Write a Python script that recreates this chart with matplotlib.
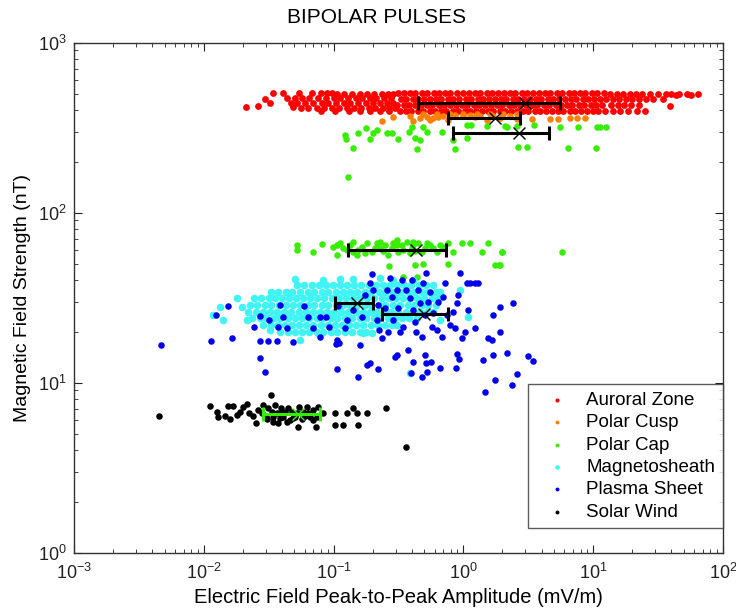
import numpy as np
import matplotlib
matplotlib.use("Agg")
import matplotlib.pyplot as plt
from matplotlib.ticker import LogLocator, LogFormatterSciNotation, NullFormatter

plt.rcParams["font.family"] = ["Liberation Sans", "DejaVu Sans"]
plt.rcParams["mathtext.default"] = "regular"

# all point positions are log10 values
# rows: (log10 B, [log10 E, ...])
auroral_rows = [
    (2.706, [-1.47, -1.387, -1.266, -1.169, -1.10, -1.053, -1.015]),
    (2.672, [-1.356]),
    (2.666, [-1.528]),
    (2.643, [-1.49, -1.33]),
    (2.627, [-1.58]),
    (2.619, [-1.675, -1.31]),
    (2.700, [-0.97, -0.92, -0.86, -0.80, -0.74, -0.69, -0.63, -0.58, -0.54]),
    (2.672, [-1.30, -1.24, -1.19, -1.12, -1.06, -1.00, -0.95, -0.89, -0.83, -0.78, -0.72, -0.67, -0.61, -0.56]),
    (2.645, [-1.28, -1.22, -1.16, -1.09, -1.04, -0.98, -0.92, -0.87, -0.81, -0.75, -0.70, -0.64, -0.59, -0.54]),
    (2.618, [-1.25, -1.20, -1.13, -1.07, -1.01, -0.96, -0.90, -0.84, -0.79, -0.73, -0.68, -0.62, -0.57, -0.53]),
    (2.598, [-1.10, -0.99, -0.88, -0.80, -0.72, -0.64, -0.57]),
    (2.702, [-0.50, -0.46, -0.41, -0.37, -0.32, -0.28, -0.23, -0.19, -0.14, -0.10, -0.05, 0.00, 0.04, 0.09,
             0.13, 0.18, 0.22, 0.27, 0.31, 0.36, 0.40, 0.45, 0.49, 0.54, 0.58, 0.63, 0.67, 0.72, 0.76, 0.81,
             0.85, 0.90, 0.94, 0.99, 1.03, 1.08]),
    (2.668, [-0.48, -0.44, -0.39, -0.35, -0.30, -0.26, -0.21, -0.17, -0.12, -0.08, -0.03, 0.02, 0.06, 0.11,
             0.15, 0.20, 0.24, 0.29, 0.33, 0.38, 0.42, 0.47, 0.51, 0.56, 0.60, 0.65, 0.69, 0.74, 0.78, 0.83,
             0.87, 0.92, 0.96, 1.01, 1.05, 1.10]),
    (2.634, [-0.51, -0.46, -0.42, -0.37, -0.33, -0.28, -0.24, -0.19, -0.15, -0.10, -0.06, -0.01, 0.03, 0.08,
             0.12, 0.17, 0.21, 0.26, 0.30, 0.35, 0.39, 0.44, 0.48, 0.53, 0.57, 0.62, 0.66, 0.71, 0.75, 0.80,
             0.84, 0.89, 0.93, 0.98, 1.02, 1.07]),
    (2.600, [-0.49, -0.44, -0.40, -0.35, -0.31, -0.26, -0.22, -0.17, -0.13, -0.08, -0.04, 0.01, 0.05, 0.10,
             0.14, 0.19, 0.23, 0.28, 0.32, 0.37, 0.41, 0.46, 0.50, 0.55, 0.59, 0.64, 0.68, 0.73, 0.77, 0.82,
             0.86, 0.91, 0.95, 1.00, 1.04, 1.09]),
    (2.700, [1.13, 1.18, 1.23, 1.28, 1.33, 1.38, 1.44, 1.50, 1.56, 1.60, 1.66, 1.72, 1.81]),
    (2.668, [1.15, 1.20, 1.25, 1.30, 1.35, 1.41, 1.46, 1.54]),
    (2.690, [1.64, 1.75]),
    (2.634, [1.14, 1.19, 1.24, 1.29, 1.35]),
    (2.627, [1.59]),
    (2.600, [1.15, 1.21, 1.27, 1.335, 1.40]),
]

polar_cusp_pts = [
    (-0.63, 2.541), (-0.545, 2.564), (-0.41, 2.568), (-0.386, 2.541), (-0.334, 2.56), (-0.283, 2.564),
    (-0.257, 2.545), (-0.232, 2.555), (-0.193, 2.564), (-0.154, 2.568), (-0.116, 2.545), (-0.065, 2.572),
    (0.0, 2.568), (0.051, 2.574), (0.089, 2.564), (0.128, 2.568), (0.18, 2.545), (0.231, 2.568),
    (0.282, 2.555), (0.359, 2.568), (0.41, 2.549), (0.526, 2.549), (0.667, 2.549), (0.731, 2.553),
    (0.821, 2.555), (0.873, 2.555), (0.937, 2.555), (-0.309, 2.578), (-0.206, 2.578), (-0.103, 2.578),
    (0.0, 2.580), (0.103, 2.578), (0.205, 2.578), (0.308, 2.578), (0.41, 2.578),
]

polar_cap_pts = [
    # ~300 nT group
    (-0.912, 2.457), (-0.907, 2.431), (-0.848, 2.382), (-0.809, 2.466), (-0.75, 2.496), (-0.719, 2.431),
    (-0.694, 2.466), (-0.668, 2.486), (-0.586, 2.47), (-0.553, 2.47), (-0.501, 2.433), (-0.416, 2.476),
    (-0.398, 2.502), (-0.373, 2.441), (-0.355, 2.374), (-0.334, 2.427), (-0.314, 2.502), (-0.283, 2.476),
    (-0.167, 2.476), (-0.078, 2.427), (-0.065, 2.374), (0.025, 2.441), (0.025, 2.515), (0.056, 2.515),
    (0.18, 2.512), (0.32, 2.51), (0.333, 2.502), (0.41, 2.51), (0.423, 2.384), (0.493, 2.384),
    (0.544, 2.515), (0.744, 2.502), (0.808, 2.378), (0.885, 2.502), (1.022, 2.378), (1.027, 2.506),
    (1.052, 2.506), (1.099, 2.506), (-0.892, 2.211),
    # ~60 nT group
    (-1.285, 1.81), (-1.28, 1.78), (-1.156, 1.771), (-1.092, 1.816), (-1.002, 1.80), (-0.976, 1.751),
    (-0.951, 1.82), (-0.899, 1.78), (-0.848, 1.829), (-0.822, 1.751), (-0.784, 1.80), (-0.745, 1.82),
    (-0.707, 1.771), (-0.668, 1.82), (-0.643, 1.79), (-0.604, 1.81), (-0.578, 1.751), (-0.54, 1.82),
    (-0.501, 1.771), (-0.476, 1.81), (-0.437, 1.829), (-0.411, 1.761), (-0.386, 1.81), (-0.347, 1.82),
    (-0.322, 1.771), (-0.283, 1.82), (-0.232, 1.79), (-0.18, 1.81), (-0.116, 1.82), (-0.078, 1.771),
    (-0.013, 1.82), (0.051, 1.82), (0.141, 1.771), (0.192, 1.82), (0.295, 1.771), (-0.571, 1.686),
    (-0.373, 1.692), (-0.309, 1.698), (-0.116, 1.698), (0.244, 1.692), (0.277, 1.692), (-0.36, 1.623),
    (-0.463, 1.623), (0.76, 1.769), (0.297, 1.769), (0.282, 1.692),
    (-0.976, 1.81), (-0.925, 1.79), (-0.874, 1.81), (-0.81, 1.78), (-0.758, 1.761), (-0.681, 1.79),
    (-0.617, 1.776), (-0.553, 1.79), (-0.514, 1.81), (-0.463, 1.78), (-0.399, 1.79), (-0.373, 1.776),
    (-0.296, 1.79), (-0.257, 1.81), (-0.206, 1.771), (-0.155, 1.80), (-0.848, 1.771), (-0.643, 1.829),
    (-0.514, 1.839), (-0.386, 1.829),
]

magnetosheath_rows = [
    (1.608, [-1.297, -0.951, -0.848]),
    (1.604, [-1.079, -0.540, -0.386]),
    (1.614, [-0.643]),
    (1.574, [-1.28, -1.225, -1.17, -1.115, -1.06, -1.005, -0.95, -0.895, -0.84, -0.785, -0.73, -0.675,
             -0.62, -0.565, -0.51, -0.455, -0.40, -0.345, -0.29, -0.235]),
    (1.535, [-1.48, -1.43, -1.37, -1.32, -1.26, -1.20, -1.15, -1.09, -1.04, -0.98, -0.93, -0.87, -0.82,
             -0.76, -0.71, -0.65, -0.60, -0.54, -0.49, -0.43, -0.38, -0.32, -0.27, -0.21, -0.18]),
    (1.496, [-1.61, -1.56, -1.50, -1.45, -1.40, -1.345, -1.29, -1.235, -1.18, -1.125, -1.07, -1.015, -0.96,
             -0.905, -0.85, -0.795, -0.74, -0.685, -0.63, -0.575, -0.52, -0.465, -0.41, -0.355, -0.30,
             -0.245, -0.19]),
    (1.457, [-1.64, -1.59, -1.53, -1.48, -1.42, -1.37, -1.31, -1.26, -1.20, -1.15, -1.09, -1.04, -0.98,
             -0.93, -0.87, -0.82, -0.76, -0.71, -0.65, -0.60, -0.54, -0.49, -0.43, -0.38, -0.32, -0.27, -0.21]),
    (1.418, [-1.66, -1.60, -1.545, -1.49, -1.435, -1.38, -1.325, -1.27, -1.215, -1.16, -1.105, -1.05,
             -0.995, -0.94, -0.885, -0.83, -0.775, -0.72, -0.665, -0.61, -0.555, -0.50, -0.445, -0.39,
             -0.335, -0.28, -0.235]),
    (1.378, [-1.63, -1.57, -1.52, -1.46, -1.41, -1.35, -1.30, -1.24, -1.19, -1.13, -1.08, -1.02, -0.97,
             -0.91, -0.86, -0.80, -0.75, -0.69, -0.64, -0.58, -0.53, -0.47, -0.42, -0.36]),
    (1.339, [-1.54, -1.485, -1.43, -1.375, -1.32, -1.265, -1.21, -1.155, -1.10, -1.045, -0.99, -0.935,
             -0.88, -0.825, -0.77, -0.715, -0.66, -0.605, -0.55, -0.515]),
    (1.300, [-1.41, -1.35, -1.30, -1.24, -1.19, -1.13, -1.08, -1.02, -0.97, -0.91, -0.86, -0.80, -0.75]),
    (1.398, [-1.927]),
    (1.447, [-1.875, -1.708]),
    (1.368, [-1.85, -1.670, -0.18]),
    (1.496, [-1.747]),
    (1.310, [-1.49]),
    (1.251, [-1.259]),
    (1.290, [-1.118, -0.771, -0.707]),
    (1.545, [-0.026]),
    (1.388, [0.038]),
    (1.055, [-0.411]),
]

plasma_sheet_pts = [
    (-1.947, 1.247), (-1.785, 1.261), (-1.816, 1.451), (-1.906, 1.398), (-1.613, 1.329), (-1.567, 1.392),
    (-1.495, 1.368), (-1.567, 1.247), (-1.503, 1.247), (-1.439, 1.245), (-1.426, 1.329), (-1.413, 1.457),
    (-1.387, 1.388), (-1.362, 1.320), (-1.310, 1.241), (-1.228, 1.451), (-1.195, 1.384), (-1.161, 1.320),
    (-1.105, 1.384), (-1.059, 1.384), (-1.033, 1.329), (-0.976, 1.251), (-0.964, 1.451), (-0.956, 1.231),
    (-0.912, 1.320), (-0.899, 1.368), (-0.848, 1.427), (-0.797, 1.221), (-0.784, 1.384), (-0.758, 1.516),
    (-0.720, 1.584), (-0.707, 1.637), (-0.694, 1.545), (-0.668, 1.368), (-0.656, 1.457), (-0.648, 1.310),
    (-0.630, 1.261), (-0.604, 1.437), (-0.591, 1.545), (-0.578, 1.300), (-0.566, 1.614), (-0.553, 1.506),
    (-0.540, 1.368), (-0.514, 1.545), (-0.501, 1.437), (-0.488, 1.300), (-0.476, 1.604), (-0.463, 1.329),
    (-0.442, 1.545), (-0.411, 1.496), (-0.399, 1.604), (-0.386, 1.427), (-0.373, 1.359), (-0.365, 1.300),
    (-0.347, 1.545), (-0.334, 1.467), (-0.321, 1.270), (-0.309, 1.584), (-0.296, 1.398), (-0.288, 1.643),
    (-0.270, 1.476), (-0.257, 1.535), (-0.245, 1.329), (-0.232, 1.408), (-0.206, 1.310), (-0.193, 1.476),
    (-0.167, 1.270), (-0.155, 1.506), (-0.142, 1.584), (-0.129, 1.398), (-0.103, 1.339), (-0.078, 1.418),
    (-0.065, 1.320), (-0.052, 1.467), (-0.039, 1.516), (-0.026, 1.643), (-0.014, 1.261), (0.012, 1.300),
    (0.025, 1.584), (0.038, 1.427), (0.051, 1.584), (0.089, 1.584), (0.115, 1.584), (0.089, 1.320),
    (0.192, 1.261), (0.218, 1.251), (0.230, 1.398), (0.282, 1.300), (0.282, 1.447), (0.379, 1.467),
    (-0.514, 1.163), (-0.527, 1.153), (-0.424, 1.192), (-0.386, 1.123), (-0.296, 1.163), (-0.288, 1.114),
    (-0.283, 1.065), (-0.252, 1.123), (-0.180, 1.084), (-0.057, 1.084), (-0.052, 1.168), (-0.032, 1.137),
    (0.148, 1.133), (0.230, 1.163), (0.333, 1.172), (0.500, 1.157), (0.539, 1.127), (0.415, 1.051),
    (0.372, 0.984), (0.243, 1.016), (0.166, 0.943), (-0.321, 1.031), (-0.406, 1.055), (-0.661, 1.078),
    (-0.720, 1.118), (-0.740, 1.104), (-0.810, 1.031), (-0.976, 1.078), (-1.528, 1.065), (-1.567, 1.143),
    (-0.982, 1.227), (-1.105, 1.267), (-2.33, 1.222),
]

solar_wind_pts = [
    (-2.343, 0.804), (-1.952, 0.863), (-1.896, 0.830), (-1.888, 0.800), (-1.837, 0.804), (-1.811, 0.863),
    (-1.798, 0.785), (-1.773, 0.863), (-1.747, 0.810), (-1.721, 0.830), (-1.696, 0.859), (-1.670, 0.875),
    (-1.649, 0.820), (-1.618, 0.804), (-1.598, 0.765), (-1.580, 0.840), (-1.541, 0.869), (-1.521, 0.804),
    (-1.503, 0.849), (-1.485, 0.928), (-1.469, 0.771), (-1.451, 0.869), (-1.439, 0.820), (-1.426, 0.765),
    (-1.408, 0.849), (-1.387, 0.800), (-1.362, 0.771), (-1.349, 0.849), (-1.323, 0.830), (-1.297, 0.800),
    (-1.272, 0.741), (-1.264, 0.859), (-1.233, 0.830), (-1.208, 0.859), (-1.182, 0.800), (-1.156, 0.840),
    (-1.136, 0.741), (-1.118, 0.859), (-1.084, 0.820), (-0.989, 0.820), (-0.989, 0.751), (-0.925, 0.751),
    (-0.899, 0.820), (-0.853, 0.849), (-0.822, 0.820), (-0.809, 0.751), (-0.745, 0.820), (-0.596, 0.849),
    (-0.442, 0.624), (-1.554, 0.820), (-1.516, 0.785), (-1.477, 0.830), (-1.413, 0.790), (-1.374, 0.830),
    (-1.336, 0.781), (-1.285, 0.820), (-1.246, 0.785), (-1.195, 0.820), (-1.156, 0.781), (-1.464, 0.800),
    (-1.400, 0.820), (-1.310, 0.790), (-1.220, 0.804), (-1.131, 0.800),
]

# mean +/- std bars (linear mV/m), B in nT
bar_mean_e = [3.0, 1.75, 2.7, 0.43, 0.152, 0.50, 0.0535]
bar_std_e = [2.55, 0.99, 1.87, 0.30, 0.049, 0.262, 0.025]
bar_b = [442, 360, 294, 60.4, 29.4, 25.4, 6.55]
bar_colors = ["k", "k", "k", "k", "k", "k", "#33ee00"]

labels = ["Auroral Zone", "Polar Cusp", "Polar Cap", "Magnetosheath", "Plasma Sheet", "Solar Wind"]
colors = ["#ff0000", "#ff8000", "#38ee00", "#40f4f4", "#0000f0", "#000000"]
dot_sizes = [24, 22, 22, 30, 22, 22]


def from_rows(rows):
    e, b = [], []
    for lb, les in rows:
        e += les
        b += [lb] * len(les)
    return 10 ** np.array(e), 10 ** np.array(b)


def from_pts(pts):
    a = np.array(pts)
    return 10 ** a[:, 0], 10 ** a[:, 1]


groups = [
    from_rows(auroral_rows),
    from_pts(polar_cusp_pts),
    from_pts(polar_cap_pts),
    from_rows(magnetosheath_rows),
    from_pts(plasma_sheet_pts),
    from_pts(solar_wind_pts),
]

fig = plt.figure(figsize=(7.36, 6.11), dpi=100)
ax = fig.add_axes([0.1005, 0.0954, 0.8818, 0.8347])

for (e, b), lab, col, sz in zip(groups, labels, colors, dot_sizes):
    ax.scatter(e, b, s=sz, c=col, linewidths=0, label=lab)

for m, sd, b, col in zip(bar_mean_e, bar_std_e, bar_b, bar_colors):
    ax.errorbar(m, b, xerr=sd, fmt="none", ecolor=col, elinewidth=2.2, capsize=5, capthick=2.2, zorder=5)
    ax.plot(m, b, marker="x", ms=8, mew=1, color=col, zorder=6)

ax.set_xscale("log")
ax.set_yscale("log")
ax.set_xlim(1e-3, 1e2)
ax.set_ylim(1e0, 1e3)
ax.xaxis.set_major_locator(LogLocator(base=10, numticks=10))
ax.yaxis.set_major_locator(LogLocator(base=10, numticks=10))
ax.xaxis.set_minor_locator(LogLocator(base=10, subs=np.arange(2, 10), numticks=20))
ax.yaxis.set_minor_locator(LogLocator(base=10, subs=np.arange(2, 10), numticks=20))
ax.xaxis.set_major_formatter(LogFormatterSciNotation())
ax.yaxis.set_major_formatter(LogFormatterSciNotation())
ax.xaxis.set_minor_formatter(NullFormatter())
ax.yaxis.set_minor_formatter(NullFormatter())
ax.tick_params(which="both", direction="in", top=True, right=True, labelsize=13, colors="#222222")
ax.tick_params(which="major", length=6, width=0.8)
ax.tick_params(which="minor", length=3, width=0.6)
ax.tick_params(axis="x", which="major", pad=7)
ax.tick_params(axis="y", which="major", pad=5)
for sp in ax.spines.values():
    sp.set_color("#333333")
    sp.set_linewidth(1)

ax.set_xlabel("Electric Field Peak-to-Peak Amplitude (mV/m)", fontsize=14.5, labelpad=4)
ax.set_ylabel("Magnetic Field Strength (nT)", fontsize=14, labelpad=5)
ax.set_title("BIPOLAR PULSES", fontsize=15, x=0.467, pad=14)

leg = ax.legend(loc="lower right", bbox_to_anchor=(1.0, 0.048), borderaxespad=0, fontsize=13.5,
                frameon=True, fancybox=False, markerscale=0.6, handlelength=2.3, handletextpad=0.4,
                labelspacing=0.28, borderpad=0.4, scatterpoints=1)
leg.get_frame().set_edgecolor("#333333")
leg.get_frame().set_linewidth(1)

fig.savefig("out.png", dpi=100)
